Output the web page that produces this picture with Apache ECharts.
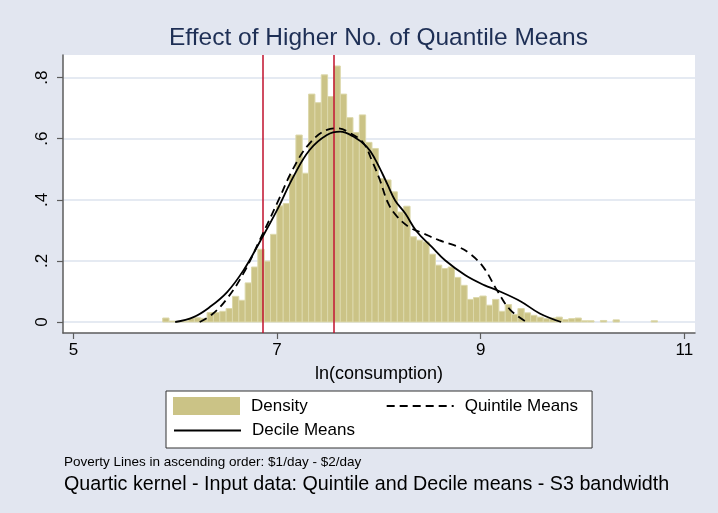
<!DOCTYPE html>
<html lang="en">
<head>
<meta charset="UTF-8">
<title>Effect of Higher No. of Quantile Means</title>
<style>
    html, body { margin: 0; padding: 0; background: #e2e6f0; }
    #main { width: 718px; height: 513px; }
</style>
</head>
<body>
<div id="main"></div>
<script src="https://cdn.jsdelivr.net/npm/echarts@6/dist/echarts.min.js"></script>
<script>
    // histogram of ln(consumption): start of first bin, bin width, density per bin
    var binStart = 5.877;
    var binWidth = 0.0623;
    var density = [
        0.013, 0.003, 0.002, 0.003, 0.012, 0.014, 0.012, 0.031, 0.031, 0.035,
        0.044, 0.084, 0.071, 0.128, 0.180, 0.238, 0.199, 0.287, 0.380, 0.388,
        0.481, 0.612, 0.487, 0.746, 0.718, 0.809, 0.738, 0.838, 0.746, 0.669,
        0.620, 0.678, 0.588, 0.568, 0.470, 0.465, 0.426, 0.360, 0.379, 0.279,
        0.268, 0.262, 0.222, 0.186, 0.175, 0.180, 0.146, 0.120, 0.074, 0.080,
        0.085, 0.055, 0.074, 0.035, 0.057, 0.025, 0.044, 0.030, 0.022, 0.016,
        0.011, 0.013, 0.016, 0.008, 0.011, 0.013, 0.004, 0.004, 0.000, 0.005,
        0.000, 0.007, 0.000, 0.000, 0.000, 0.000, 0.000, 0.004
    ];

    // kernel density estimates [x, y]
    var decileMeans = [
        [6.00, 0], [6.18, 0.016], [6.34, 0.049], [6.51, 0.098], [6.67, 0.169],
        [6.83, 0.262], [7.00, 0.366], [7.16, 0.475], [7.32, 0.563], [7.49, 0.612],
        [7.62, 0.623], [7.75, 0.607], [7.88, 0.574], [7.96, 0.535], [8.08, 0.454],
        [8.16, 0.398], [8.26, 0.355], [8.37, 0.297], [8.52, 0.246], [8.65, 0.202],
        [8.85, 0.153], [9.04, 0.120], [9.16, 0.104], [9.39, 0.068], [9.58, 0.028],
        [9.79, 0]
    ];
    var quintileMeans = [
        [6.24, 0], [6.37, 0.027], [6.51, 0.077], [6.67, 0.159], [6.83, 0.268],
        [7.00, 0.388], [7.16, 0.503], [7.32, 0.585], [7.49, 0.629], [7.59, 0.634],
        [7.72, 0.618], [7.85, 0.585], [7.93, 0.530], [8.01, 0.465], [8.09, 0.390],
        [8.18, 0.345], [8.30, 0.310], [8.41, 0.294], [8.59, 0.268], [8.78, 0.246],
        [8.90, 0.222], [9.03, 0.178], [9.16, 0.104], [9.29, 0.040], [9.45, 0]
    ];

    var povertyLines = [6.862, 7.557];
    var xTicks = [5, 7, 9, 11];
    var yTicks = [0, 0.2, 0.4, 0.6, 0.8];

    var bins = [];
    for (var i = 0; i < density.length; i++) {
        bins.push([binStart + i * binWidth, binStart + (i + 1) * binWidth, density[i]]);
    }

    var font = "'Liberation Sans', Arial, sans-serif";
    var noMarker = { color: 'rgba(0,0,0,0)', borderColor: 'rgba(0,0,0,0)', borderWidth: 0, opacity: 0 };
    var chart = echarts.init(document.getElementById('main'));

    var option = {
        backgroundColor: '#e2e6f0',
        animation: false,
        textStyle: { fontFamily: font },
        title: [{
            text: 'Effect of Higher No. of Quantile Means',
            left: 169,
            top: 26,
            padding: 0,
            textStyle: { fontSize: 24.5, fontWeight: 'normal', color: '#1e2f55', fontFamily: font }
        }, {
            text: 'Poverty Lines in ascending order: $1/day - $2/day',
            left: 64,
            top: 455,
            padding: 0,
            textStyle: { fontSize: 13.5, fontWeight: 'normal', color: '#000', fontFamily: font }
        }, {
            text: 'Quartic kernel - Input data: Quintile and Decile means - S3 bandwidth',
            left: 64,
            top: 475,
            padding: 0,
            textStyle: { fontSize: 19.7, fontWeight: 'normal', color: '#000', fontFamily: font }
        }],
        legend: [{
            data: [
                { name: 'Density', icon: 'rect' },
                { name: 'Quintile Means', itemStyle: noMarker }
            ],
            left: 166,
            top: 391,
            padding: [6, 14, 33, 7],
            itemWidth: 67,
            itemHeight: 18,
            itemGap: 78,
            backgroundColor: '#fff',
            borderColor: '#333',
            borderWidth: 1,
            selectedMode: false,
            textStyle: { fontSize: 17, color: '#000', fontFamily: font, padding: [0, 0, 0, 6] }
        }, {
            data: [{ name: 'Decile Means', itemStyle: noMarker }],
            left: 173,
            top: 422,
            padding: 0,
            itemWidth: 67,
            itemHeight: 18,
            selectedMode: false,
            textStyle: { fontSize: 17, color: '#000', fontFamily: font, padding: [0, 0, 0, 6] }
        }],
        grid: {
            left: 63,
            top: 55,
            width: 632,
            height: 278,
            show: true,
            backgroundColor: '#fff',
            borderWidth: 0
        },
        xAxis: {
            type: 'value',
            min: 4.898,
            max: 11.105,
            name: 'ln(consumption)',
            nameLocation: 'middle',
            nameGap: 32,
            nameTextStyle: { fontSize: 18, color: '#000', fontFamily: font },
            axisLine: { show: true, onZero: false, lineStyle: { color: '#5c5c5c', width: 1.5 } },
            axisTick: { show: true, length: 6, customValues: xTicks, lineStyle: { color: '#5c5c5c', width: 1.2 } },
            axisLabel: { customValues: xTicks, fontSize: 17, color: '#000', margin: 9, fontFamily: font },
            splitLine: { show: false }
        },
        yAxis: {
            type: 'value',
            min: -0.036,
            max: 0.874,
            axisLine: { show: true, onZero: false, lineStyle: { color: '#5c5c5c', width: 1.5 } },
            axisTick: { show: true, length: 6, customValues: yTicks, lineStyle: { color: '#5c5c5c', width: 1.2 } },
            axisLabel: {
                customValues: yTicks,
                rotate: 90,
                fontSize: 17,
                color: '#000',
                margin: 12,
                fontFamily: font,
                formatter: function (v) {
                    return v === 0 ? '0' : String(+v.toFixed(1)).replace(/^0/, '');
                }
            },
            splitLine: { show: true, lineStyle: { color: '#dde3ee', width: 1.5 } }
        },
        series: [{
            name: 'Density',
            type: 'custom',
            itemStyle: { color: '#cbc386' },
            encode: { x: [0, 1], y: 2 },
            data: bins,
            renderItem: function (params, api) {
                if (!api.value(2)) return null;
                var p0 = api.coord([api.value(0), api.value(2)]);
                var p1 = api.coord([api.value(1), 0]);
                return {
                    type: 'rect',
                    shape: { x: p0[0], y: p0[1], width: p1[0] - p0[0], height: p1[1] - p0[1] },
                    style: { fill: '#cbc386', stroke: '#dcd8ab', lineWidth: 1 }
                };
            }
        }, {
            name: 'Quintile Means',
            type: 'line',
            symbol: 'none',
            smooth: 0.4,
            data: quintileMeans,
            lineStyle: { color: '#000', width: 1.8, type: [8, 5] },
            itemStyle: { color: '#000' },
            z: 4
        }, {
            name: 'Decile Means',
            type: 'line',
            symbol: 'none',
            smooth: 0.4,
            data: decileMeans,
            lineStyle: { color: '#000', width: 1.8 },
            itemStyle: { color: '#000' },
            z: 4,
            markLine: {
                silent: true,
                symbol: ['none', 'none'],
                label: { show: false },
                lineStyle: { color: '#c0102c', width: 1.5, type: 'solid' },
                z: 3,
                data: povertyLines.map(function (v) { return { xAxis: v }; })
            }
        }]
    };

    chart.setOption(option);
</script>
</body>
</html>
